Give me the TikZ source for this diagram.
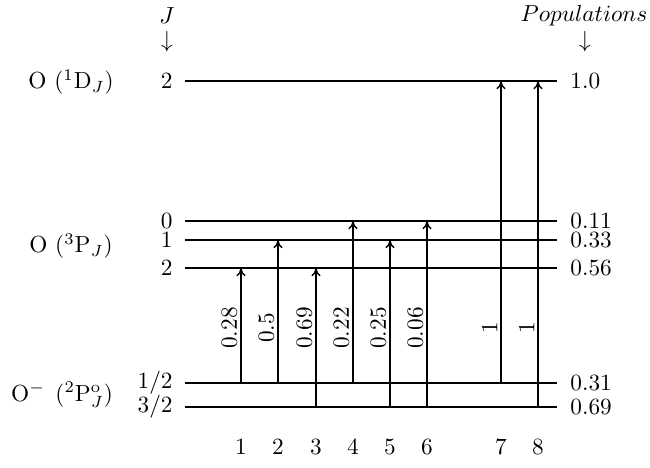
\documentclass[tikz,border=0pt]{standalone}
\usetikzlibrary{arrows.meta}
\begin{document}
\begin{tikzpicture}[x=0.43pt,y=-0.43pt,
  level/.style={line width=0.6pt},
  trans/.style={line width=0.6pt,-{To[length=3.6pt,width=4pt]}},
  lbl/.style={inner sep=0pt},
  rot/.style={inner sep=0pt,rotate=90},
]
\useasboundingbox (0,0) rectangle (650,468);
% headers
\node[lbl] (J) at (167,16) {$J$};
\node[lbl] (Jarr) at (167,42) {$\downarrow$};
\node[lbl] (Pop) at (584,16) {$Populations$};
\node[lbl] (Parr) at (585,42) {$\downarrow$};
% level endpoints
\foreach \n/\y in {D2/81,P0/221,P1/240,P2/268,Mh/383,Mt/407}{
  \coordinate (\n l) at (185,\y);
  \coordinate (\n r) at (557,\y);
  \draw[level] (\n l) -- (\n r);
}
% species labels
\node[lbl] (sD) at (71,82) {O\ $(^1\mathrm{D}_J)$};
\node[lbl] (sP) at (71,246) {O\ $(^3\mathrm{P}_J)$};
\node[lbl] (sM) at (62,395) {O$^-$\hspace{4.5pt}$(^2\mathrm{P}^\mathrm{o}_J)$};
% J values
\node[lbl,anchor=east] (jD2) at (173,81) {2};
\node[lbl,anchor=east] (jP0) at (173,221) {0};
\node[lbl,anchor=east] (jP1) at (173,240) {1};
\node[lbl,anchor=east] (jP2) at (173,268) {2};
\node[lbl,anchor=east] (jMh) at (173,383) {1/2};
\node[lbl,anchor=east] (jMt) at (173,407) {3/2};
% populations
\node[lbl,anchor=west] (pD2) at (570,81) {1.0};
\node[lbl,anchor=west] (pP0) at (570,221) {0.11};
\node[lbl,anchor=west] (pP1) at (570,240) {0.33};
\node[lbl,anchor=west] (pP2) at (570,268) {0.56};
\node[lbl,anchor=west] (pMh) at (570,383) {0.31};
\node[lbl,anchor=west] (pMt) at (570,407) {0.69};
% transitions
\foreach \i/\x/\ya/\yb/\v in {1/241/383/268/0.28,2/278/383/240/0.5,3/316/407/268/0.69,4/353/383/221/0.22,5/390/407/240/0.25,6/427/407/221/0.06,7/501/383/81/1,8/538/407/81/1}{
  \coordinate (s\i) at (\x,\ya);
  \coordinate (e\i) at (\x,\yb);
  \draw[trans] (s\i) -- (e\i);
  \node[rot] (v\i) at (\x-11.5,328) {\v};
  \node[lbl] (n\i) at (\x,447) {\i};
}
\end{tikzpicture}
\end{document}
